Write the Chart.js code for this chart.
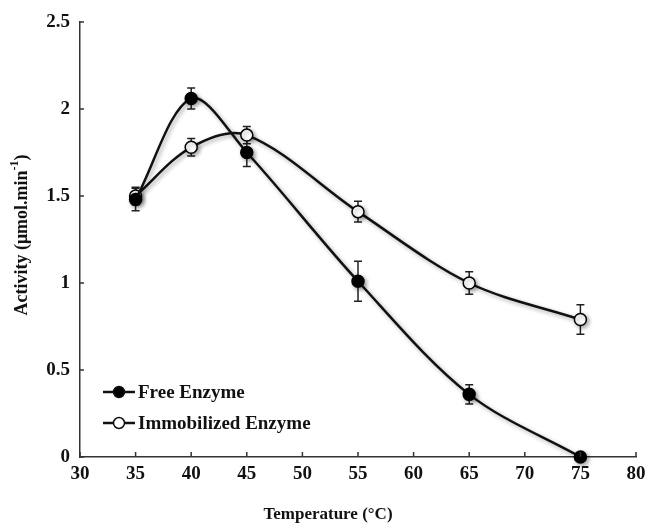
<!DOCTYPE html>
<html>
<head>
<meta charset="utf-8">
<script src="https://cdn.jsdelivr.net/npm/chart.js@4"></script>
<style>
  html, body { margin: 0; padding: 0; background: #fff; }
  #wrap { width: 646px; height: 525px; }
</style>
</head>
<body>
<div id="wrap"><canvas id="graphique-activite" width="646" height="525"></canvas></div>
<script>
// Données
const temperatures = [35, 40, 45, 55, 65, 75]
const activiteLibre = [1.48, 2.06, 1.75, 1.01, 0.36, 0]
const erreurLibre = [0.065, 0.06, 0.08, 0.115, 0.055, 0]
const activiteImmob = [1.50, 1.78, 1.85, 1.41, 1.00, 0.79]
const erreurImmob = [0.05, 0.05, 0.05, 0.06, 0.065, 0.085]
const labelsSeries = ["Free Enzyme", "Immobilized Enzyme"]
const xTicks = [30, 35, 40, 45, 50, 55, 60, 65, 70, 75, 80]
const yTicks = [0, 0.5, 1, 1.5, 2, 2.5]

const police = "'Liberation Serif', 'Times New Roman', serif"
const encre = "#111"

function points(xs, ys) {
    return xs.map((x, i) => ({x: x, y: ys[i]}))
}

// Barres d'erreur, traits de graduation intérieurs, légende et titres d'axes
const pluginFigure = {
    id: "figure",
    beforeDatasetsDraw(chart) {
        const ctx = chart.ctx
        const x = chart.scales.x
        const y = chart.scales.y
        const erreurs = [erreurLibre, erreurImmob]
        ctx.save()
        ctx.strokeStyle = "#222"
        ctx.lineWidth = 1.5
        chart.data.datasets.forEach((ds, d) => {
            ds.data.forEach((p, i) => {
                const e = erreurs[d][i]
                if (!e) return
                const px = x.getPixelForValue(p.x)
                const haut = y.getPixelForValue(p.y + e)
                const bas = y.getPixelForValue(p.y - e)
                ctx.beginPath()
                ctx.moveTo(px, haut); ctx.lineTo(px, bas)
                ctx.moveTo(px - 4, haut); ctx.lineTo(px + 4, haut)
                ctx.moveTo(px - 4, bas); ctx.lineTo(px + 4, bas)
                ctx.stroke()
            })
        })
        ctx.restore()
    },
    beforeDatasetDraw(chart) {
        const ctx = chart.ctx
        ctx.save()
        ctx.shadowColor = "rgba(0, 0, 0, 0.35)"
        ctx.shadowBlur = 4
        ctx.shadowOffsetX = 2
        ctx.shadowOffsetY = 2
    },
    afterDatasetDraw(chart) {
        chart.ctx.restore()
    },
    afterDraw(chart) {
        const ctx = chart.ctx
        const x = chart.scales.x
        const y = chart.scales.y
        const area = chart.chartArea
        ctx.save()
        ctx.strokeStyle = "#333"
        ctx.lineWidth = 1.5
        ctx.beginPath()
        for (const v of xTicks) {
            const px = x.getPixelForValue(v)
            ctx.moveTo(px, area.bottom); ctx.lineTo(px, area.bottom - 5)
        }
        for (const v of yTicks) {
            const py = y.getPixelForValue(v)
            ctx.moveTo(area.left, py); ctx.lineTo(area.left + 4, py)
        }
        ctx.stroke()

        // Légende
        const lignes = [392, 423]
        chart.data.datasets.forEach((ds, d) => {
            const ly = lignes[d]
            ctx.strokeStyle = encre
            ctx.lineWidth = 2.5
            ctx.beginPath()
            ctx.moveTo(103, ly); ctx.lineTo(135, ly)
            ctx.stroke()
            ctx.beginPath()
            ctx.arc(119, ly, 5.5, 0, Math.PI * 2)
            ctx.fillStyle = ds.pointBackgroundColor
            ctx.fill()
            ctx.lineWidth = 1.5
            ctx.stroke()
            ctx.fillStyle = encre
            ctx.font = "bold 19px " + police
            ctx.textAlign = "left"
            ctx.textBaseline = "middle"
            ctx.fillText(ds.label, 138, ly + 1)
        })

        // Titre de l'axe x
        ctx.font = "bold 17px " + police
        ctx.textAlign = "center"
        ctx.textBaseline = "middle"
        ctx.fillText("Temperature (°C)", 328, 515)

        // Titre de l'axe y avec exposant
        ctx.translate(22, 235)
        ctx.rotate(-Math.PI / 2)
        const base = "Activity (μmol.min"
        const exp = "-1"
        const fin = ")"
        ctx.font = "bold 18px " + police
        const w1 = ctx.measureText(base).width
        const w3 = ctx.measureText(fin).width
        ctx.font = "bold 12px " + police
        const w2 = ctx.measureText(exp).width
        let cx = -(w1 + w2 + w3) / 2
        ctx.textAlign = "left"
        ctx.font = "bold 18px " + police
        ctx.fillText(base, cx, 0)
        cx += w1
        ctx.font = "bold 12px " + police
        ctx.fillText(exp, cx, -7)
        cx += w2
        ctx.font = "bold 18px " + police
        ctx.fillText(fin, cx, 0)
        ctx.restore()
    }
}

const data = {
    datasets: [{
        label: labelsSeries[0],
        data: points(temperatures, activiteLibre),
        borderColor: encre,
        borderWidth: 2.5,
        pointBackgroundColor: "#000",
        pointBorderColor: "#000",
        pointBorderWidth: 1.5,
        pointRadius: 6,
        tension: 0.33,
        clip: false,
    }, {
        label: labelsSeries[1],
        data: points(temperatures, activiteImmob),
        borderColor: encre,
        borderWidth: 2.5,
        pointBackgroundColor: "#fff",
        pointBorderColor: "#000",
        pointBorderWidth: 1.5,
        pointRadius: 6,
        tension: 0.33,
        clip: false,
    }],
}

const config = {
    type: "line",
    data: data,
    options: {
        responsive: false,
        animation: false,
        events: [],
        layout: {padding: {top: 22, right: 10, left: 0, bottom: 0}},
        plugins: {
            legend: {display: false},
            tooltip: {enabled: false},
        },
        scales: {
            x: {
                type: "linear",
                min: 30,
                max: 80,
                grid: {display: false, drawTicks: false},
                border: {display: true, color: "#333", width: 1.5},
                ticks: {
                    stepSize: 5,
                    padding: 6,
                    color: encre,
                    font: {family: police, size: 19, weight: "bold"},
                },
                afterFit: scale => {
                    scale.height = 68
                    scale.paddingLeft = 0
                    scale.paddingRight = 0
                },
            },
            y: {
                min: 0,
                max: 2.5,
                grid: {display: false, drawTicks: false},
                border: {display: true, color: "#333", width: 1.5},
                ticks: {
                    stepSize: 0.5,
                    padding: 10,
                    color: encre,
                    font: {family: police, size: 19, weight: "bold"},
                    callback: v => String(v),
                },
                afterFit: scale => { scale.width = 80 },
            },
        },
    },
    plugins: [pluginFigure],
}

const graphiqueActivite = new Chart(
    document.querySelector("#graphique-activite"),
    config,
)
</script>
</body>
</html>
